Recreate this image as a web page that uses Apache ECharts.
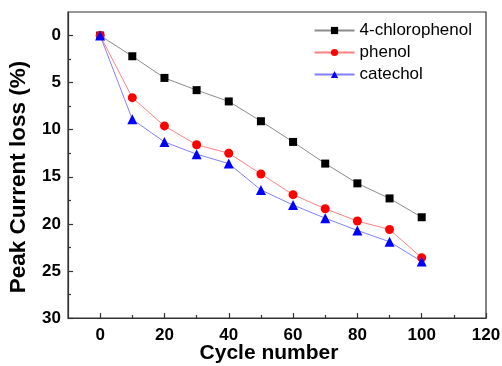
<!DOCTYPE html>
<html><head><meta charset="utf-8">
<script src="https://cdn.jsdelivr.net/npm/echarts@6/dist/echarts.min.js"></script>
<style>html,body{margin:0;padding:0;background:#fff}#c{width:502px;height:366px}</style>
</head><body><div id="c"></div>
<script>
const cycles = [0, 10, 20, 30, 40, 50, 60, 70, 80, 90, 100];
const chlorophenol = [0, 2.2, 4.5, 5.8, 7.0, 9.1, 11.3, 13.6, 15.7, 17.3, 19.3];
const phenol = [0, 6.6, 9.6, 11.6, 12.5, 14.7, 16.9, 18.4, 19.7, 20.6, 23.6];
const catechol = [0, 8.9, 11.3, 12.6, 13.6, 16.4, 18.0, 19.4, 20.7, 21.9, 24.0];
const xMajor = [0, 20, 40, 60, 80, 100, 120];
const xMinor = [10, 30, 50, 70, 90, 110];
const yMajor = [0, 5, 10, 15, 20, 25, 30];
const yMinor = [2.5, 7.5, 12.5, 17.5, 22.5, 27.5];

const font = 'Liberation Sans, Arial, sans-serif';
const pair = a => cycles.map((c, i) => [c, a[i]]);
const axisCol = '#333';

const chart = echarts.init(document.getElementById('c'), null, {renderer: 'canvas'});
chart.setOption({
  animation: false,
  grid: {left: 68, right: 16, top: 12, bottom: 48, show: true, borderColor: axisCol, borderWidth: 1.2,
         containLabel: false, outerBoundsMode: 'none'},
  legend: {
    orient: 'vertical', right: 25, top: 17, itemWidth: 40, itemHeight: 9, itemGap: 5,
    textStyle: {fontFamily: font, fontSize: 17, color: '#000', padding: [0, 0, 0, 0]},
    data: ['4-chlorophenol', 'phenol', 'catechol']
  },
  xAxis: [{
    type: 'value', min: -10, max: 120, position: 'bottom',
    name: 'Cycle number', nameLocation: 'middle', nameGap: 25, nameMoveOverlap: false,
    nameTextStyle: {fontFamily: font, fontSize: 21, fontWeight: 'bold', color: '#000', padding: [0, 16, 0, 0]},
    axisLine: {show: true, onZero: false, lineStyle: {color: axisCol, width: 1.2}},
    axisTick: {show: true, inside: true, length: 5, customValues: xMajor, lineStyle: {color: axisCol, width: 1.2}},
    axisLabel: {customValues: xMajor, fontFamily: font, fontSize: 17, fontWeight: 'bold', color: '#000', margin: 9},
    splitLine: {show: false}
  }, {
    type: 'value', min: -10, max: 120, position: 'bottom',
    axisLine: {show: false, onZero: false},
    axisTick: {show: true, inside: true, length: 3, customValues: xMinor, lineStyle: {color: axisCol, width: 1.2}},
    axisLabel: {show: false},
    splitLine: {show: false}
  }],
  yAxis: [{
    type: 'value', min: -2.5, max: 30, inverse: true, position: 'left',
    name: 'Peak Current loss (%)', nameLocation: 'middle', nameGap: 38, nameMoveOverlap: false,
    nameTextStyle: {fontFamily: font, fontSize: 22.5, fontWeight: 'bold', color: '#000', padding: [0, 24, 0, 0]},
    axisLine: {show: true, onZero: false, lineStyle: {color: axisCol, width: 1.2}},
    axisTick: {show: true, inside: true, length: 5, customValues: yMajor, lineStyle: {color: axisCol, width: 1.2}},
    axisLabel: {customValues: yMajor, fontFamily: font, fontSize: 17, fontWeight: 'bold', color: '#000', margin: 7},
    splitLine: {show: false}
  }, {
    type: 'value', min: -2.5, max: 30, inverse: true, position: 'left',
    axisLine: {show: false, onZero: false},
    axisTick: {show: true, inside: true, length: 3, customValues: yMinor, lineStyle: {color: axisCol, width: 1.2}},
    axisLabel: {show: false},
    splitLine: {show: false}
  }],
  series: [{
    name: '4-chlorophenol', type: 'line', data: pair(chlorophenol),
    symbol: 'rect', symbolSize: 8,
    lineStyle: {color: '#8c8c8c', width: 1}, itemStyle: {color: '#000'}
  }, {
    name: 'phenol', type: 'line', data: pair(phenol),
    symbol: 'circle', symbolSize: 9,
    lineStyle: {color: '#ff8080', width: 1}, itemStyle: {color: '#ff0000'}
  }, {
    name: 'catechol', type: 'line', data: pair(catechol),
    symbol: 'triangle', symbolSize: 10,
    lineStyle: {color: '#8080ff', width: 1}, itemStyle: {color: '#0000ff'}
  }]
});
</script></body></html>
